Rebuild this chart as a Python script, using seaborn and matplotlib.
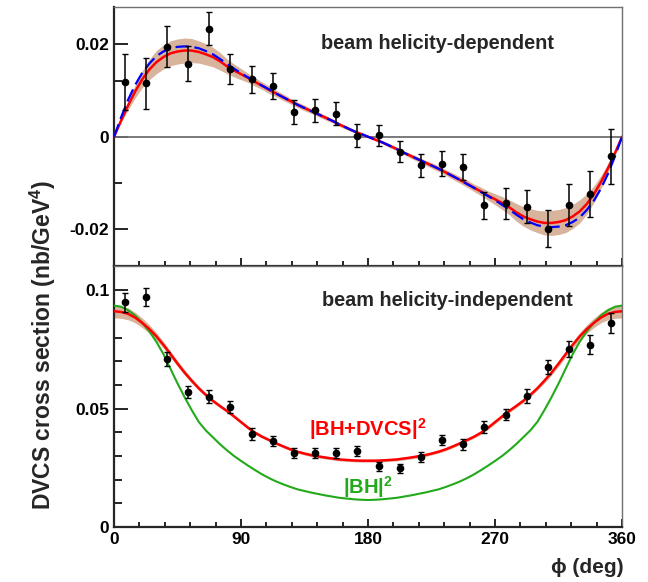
import numpy as np
import pandas as pd
import seaborn as sns
import matplotlib.pyplot as plt
from matplotlib.ticker import FixedLocator

# measured points (bin centres in phi)
phi_bins = [7.5, 22.5, 37.5, 52.5, 67.5, 82.5, 97.5, 112.5, 127.5, 142.5, 157.5, 172.5,
            187.5, 202.5, 217.5, 232.5, 247.5, 262.5, 277.5, 292.5, 307.5, 322.5, 337.5, 352.5]

dep_vals = [0.0118, 0.0115, 0.0194, 0.0158, 0.0233, 0.0146, 0.0124, 0.0109, 0.0054, 0.0057, 0.0050, 0.0002,
            0.0003, -0.0032, -0.0062, -0.0058, -0.0066, -0.0148, -0.0144, -0.0151, -0.0199, -0.0148, -0.0123, -0.0042]
dep_errs = [0.0060, 0.0055, 0.0044, 0.0037, 0.0036, 0.0033, 0.0029, 0.0028, 0.0026, 0.0025, 0.0024, 0.0025,
            0.0023, 0.0022, 0.0025, 0.0027, 0.0028, 0.0029, 0.0033, 0.0035, 0.0040, 0.0045, 0.0050, 0.0059]

ind_vals = [0.0948, 0.0972, 0.0709, 0.0570, 0.0551, 0.0508, 0.0392, 0.0363, 0.0311, 0.0311, 0.0314, 0.0321,
            0.0256, 0.0248, 0.0297, 0.0367, 0.0349, 0.0423, 0.0475, 0.0553, 0.0677, 0.0752, 0.0769, 0.0861]
ind_errs = [0.0039, 0.0037, 0.0030, 0.0026, 0.0027, 0.0025, 0.0024, 0.0022, 0.0021, 0.0021, 0.0021, 0.0022,
            0.0020, 0.0020, 0.0021, 0.0021, 0.0022, 0.0024, 0.0025, 0.0028, 0.0030, 0.0033, 0.0040, 0.0041]

# curves every 5 deg (0..360)
curve_phi = list(range(0, 365, 5))

fit_dep = [0, 0.0035, 0.0068, 0.0098, 0.0124, 0.0145, 0.0161, 0.0172, 0.0180, 0.0184, 0.0186, 0.0186,
           0.0183, 0.0178, 0.0172, 0.0163, 0.0152, 0.0143, 0.0135, 0.0127, 0.0118, 0.0110, 0.0101, 0.0093,
           0.0085, 0.0077, 0.0069, 0.0062, 0.0055, 0.0048, 0.0041, 0.0034, 0.0026, 0.0019, 0.0012, 0.0006, 0.0,
           -0.0006, -0.0012, -0.0019, -0.0026, -0.0034, -0.0041, -0.0048, -0.0055, -0.0062, -0.0069, -0.0077,
           -0.0085, -0.0093, -0.0101, -0.0110, -0.0118, -0.0127, -0.0135, -0.0143, -0.0152, -0.0163, -0.0172,
           -0.0178, -0.0183, -0.0186, -0.0186, -0.0184, -0.0180, -0.0172, -0.0161, -0.0145, -0.0124, -0.0098,
           -0.0068, -0.0035, 0]
model_dep = [0, 0.0042, 0.0080, 0.0112, 0.0138, 0.0158, 0.0174, 0.0184, 0.0191, 0.0194, 0.0195, 0.0194,
             0.0191, 0.0185, 0.0178, 0.0168, 0.0157, 0.0147, 0.0137, 0.0128, 0.0119, 0.0110, 0.0102, 0.0093,
             0.0085, 0.0077, 0.0069, 0.0062, 0.0055, 0.0048, 0.0041, 0.0034, 0.0026, 0.0019, 0.0012, 0.0006, 0.0,
             -0.0006, -0.0012, -0.0019, -0.0026, -0.0034, -0.0041, -0.0048, -0.0055, -0.0062, -0.0069, -0.0077,
             -0.0085, -0.0093, -0.0102, -0.0110, -0.0119, -0.0128, -0.0137, -0.0147, -0.0157, -0.0168, -0.0178,
             -0.0185, -0.0191, -0.0194, -0.0195, -0.0194, -0.0191, -0.0184, -0.0174, -0.0158, -0.0138, -0.0112,
             -0.0080, -0.0042, 0]
band_dep = [0, 0.0005, 0.0010, 0.0014, 0.0018, 0.0022, 0.0025, 0.0026, 0.0027, 0.0027, 0.0027, 0.0026,
            0.0024, 0.0023, 0.0021, 0.0019, 0.0016, 0.0014, 0.0012, 0.0010, 0.0009, 0.0008, 0.0008, 0.0007,
            0.0007, 0.0006, 0.0006, 0.0006, 0.0005, 0.0005, 0.0005, 0.0004, 0.0004, 0.0004, 0.0003, 0.0003, 0.0002,
            0.0003, 0.0003, 0.0004, 0.0004, 0.0004, 0.0005, 0.0005, 0.0005, 0.0006, 0.0006, 0.0006,
            0.0007, 0.0007, 0.0008, 0.0008, 0.0009, 0.0010, 0.0012, 0.0014, 0.0016, 0.0019, 0.0021,
            0.0023, 0.0024, 0.0026, 0.0027, 0.0027, 0.0027, 0.0026, 0.0025, 0.0022, 0.0018, 0.0014,
            0.0010, 0.0005, 0]

fit_ind = [0.0911, 0.0908, 0.0900, 0.0884, 0.0862, 0.0836, 0.0805, 0.0769, 0.0730, 0.0690, 0.0652, 0.0618,
           0.0586, 0.0558, 0.0533, 0.0511, 0.0490, 0.0467, 0.0443, 0.0419, 0.0398, 0.0381, 0.0367, 0.0353,
           0.0340, 0.0328, 0.0318, 0.0310, 0.0303, 0.0298, 0.0293, 0.0289, 0.0285, 0.0283, 0.0281, 0.0280, 0.0280,
           0.0280, 0.0281, 0.0283, 0.0285, 0.0289, 0.0293, 0.0298, 0.0303, 0.0310, 0.0318, 0.0328,
           0.0340, 0.0353, 0.0367, 0.0381, 0.0398, 0.0419, 0.0443, 0.0467, 0.0490, 0.0511, 0.0533,
           0.0558, 0.0586, 0.0618, 0.0652, 0.0690, 0.0730, 0.0769, 0.0805, 0.0836, 0.0862, 0.0884,
           0.0900, 0.0908, 0.0911]
bh_ind = [0.0935, 0.0930, 0.0915, 0.0893, 0.0862, 0.0826, 0.0782, 0.0730, 0.0668, 0.0606, 0.0548, 0.0494,
          0.0444, 0.0408, 0.0379, 0.0350, 0.0324, 0.0300, 0.0279, 0.0259, 0.0240, 0.0222, 0.0206, 0.0192,
          0.0180, 0.0169, 0.0159, 0.0152, 0.0145, 0.0139, 0.0133, 0.0128, 0.0123, 0.0120, 0.0117, 0.0115, 0.0114,
          0.0115, 0.0117, 0.0120, 0.0123, 0.0128, 0.0133, 0.0139, 0.0145, 0.0152, 0.0159, 0.0169,
          0.0180, 0.0192, 0.0206, 0.0222, 0.0240, 0.0259, 0.0279, 0.0300, 0.0324, 0.0350, 0.0379,
          0.0408, 0.0444, 0.0494, 0.0548, 0.0606, 0.0668, 0.0730, 0.0782, 0.0826, 0.0862, 0.0893,
          0.0915, 0.0930, 0.0935]
band_ind = [0.0028, 0.0027, 0.0025, 0.0022, 0.0020, 0.0018, 0.0016, 0.0014, 0.0013, 0.0012, 0.0011, 0.0010,
            0.0009, 0.0008, 0.0008, 0.0007, 0.0007, 0.0007, 0.0007, 0.0007, 0.0007, 0.0006, 0.0006, 0.0006,
            0.0006, 0.0006, 0.0006, 0.0006, 0.0006, 0.0006, 0.0006, 0.0006, 0.0006, 0.0006, 0.0006, 0.0006, 0.0006,
            0.0006, 0.0006, 0.0006, 0.0006, 0.0006, 0.0006, 0.0006, 0.0006, 0.0006, 0.0006, 0.0006,
            0.0006, 0.0006, 0.0006, 0.0006, 0.0007, 0.0007, 0.0007, 0.0007, 0.0007, 0.0007, 0.0008,
            0.0008, 0.0009, 0.0010, 0.0011, 0.0012, 0.0013, 0.0014, 0.0016, 0.0018, 0.0020, 0.0022,
            0.0025, 0.0027, 0.0028]

sns.set_style("ticks")
plt.rcParams['font.family'] = ['Liberation Sans', 'DejaVu Sans']
plt.rcParams['font.weight'] = 'bold'
plt.rcParams['mathtext.fontset'] = 'custom'
plt.rcParams['mathtext.rm'] = 'Liberation Sans:bold'
plt.rcParams['mathtext.bf'] = 'Liberation Sans:bold'

BAND = "#d9b49c"
GREEN = "#22aa1a"
curves = pd.DataFrame({"phi": curve_phi, "fit_dep": fit_dep, "model_dep": model_dep,
                       "fit_ind": fit_ind, "bh_ind": bh_ind})

fig = plt.figure(figsize=(6.48, 5.82), dpi=100)
ax1 = fig.add_axes([0.176, 0.5421, 0.784, 0.4459])
ax2 = fig.add_axes([0.176, 0.0945, 0.784, 0.4476])

# top: helicity dependent
ax1.axhline(0, color="#707070", lw=1.3, zorder=1)
ax1.fill_between(curve_phi, np.array(fit_dep) - np.array(band_dep), np.array(fit_dep) + np.array(band_dep),
                 color=BAND, lw=0, zorder=2)
sns.lineplot(data=curves, x="phi", y="fit_dep", ax=ax1, color="red", lw=1.8, zorder=3)
sns.lineplot(data=curves, x="phi", y="model_dep", ax=ax1, color="blue", lw=1.6, zorder=4,
             dashes=False, linestyle=(0, (6, 2.5)))
ax1.errorbar(phi_bins, dep_vals, yerr=dep_errs, fmt="o", color="black", ms=4.5, elinewidth=1.1,
             capsize=2, capthick=1.0, zorder=5)
ax1.set_xlim(0, 360)
ax1.set_ylim(-0.028, 0.028)
ax1.set_yticks([-0.02, 0, 0.02])
ax1.set_yticklabels(["-0.02", "0", "0.02"])
ax1.yaxis.set_minor_locator(FixedLocator([-0.01, 0.0121]))
ax1.text(229, 0.0202, "beam helicity-dependent", ha="center", va="center", fontsize=14.3, fontweight="bold")
ax1.tick_params(labelbottom=False)

# bottom: helicity independent
ax2.fill_between(curve_phi, np.array(fit_ind) - np.array(band_ind), np.array(fit_ind) + np.array(band_ind),
                 color=BAND, lw=0, zorder=2)
sns.lineplot(data=curves, x="phi", y="bh_ind", ax=ax2, color=GREEN, lw=1.5, zorder=3)
sns.lineplot(data=curves, x="phi", y="fit_ind", ax=ax2, color="red", lw=1.8, zorder=4)
ax2.errorbar(phi_bins, ind_vals, yerr=ind_errs, fmt="o", color="black", ms=4.5, elinewidth=1.1,
             capsize=2, capthick=1.0, zorder=5)
ax2.set_xlim(0, 360)
ax2.set_ylim(0, 0.11)
ax2.set_yticks([0, 0.05, 0.1])
ax2.set_yticklabels(["0", "0.05", "0.1"])
ax2.yaxis.set_minor_locator(FixedLocator([0.01, 0.02, 0.03, 0.04, 0.06, 0.07, 0.08]))
ax2.text(236, 0.0958, "beam helicity-independent", ha="center", va="center", fontsize=14.3, fontweight="bold")
ax2.text(180, 0.0413, r"|BH+DVCS|$^{2}$", ha="center", va="center", fontsize=14.5, color="red", fontweight="bold")
ax2.text(180, 0.0169, r"|BH|$^{2}$", ha="center", va="center", fontsize=14.5, color=GREEN, fontweight="bold")

for ax in (ax1, ax2):
    ax.set_xlabel("")
    ax.set_ylabel("")
    ax.set_xticks([0, 90, 180, 270, 360])
    ax.xaxis.set_minor_locator(FixedLocator([v for v in range(18, 360, 18) if v % 90 != 0]))
    ax.tick_params(which="both", direction="in", top=False, right=False, width=1.2,
                   labelsize=12.5, colors="black")
    ax.tick_params(which="major", axis="y", length=10)
    ax.tick_params(which="minor", axis="y", length=5.5)
    ax.tick_params(which="major", axis="x", length=6)
    ax.tick_params(which="minor", axis="x", length=3.5)
    for lab in ax.get_xticklabels() + ax.get_yticklabels():
        lab.set_fontweight("bold")
    ax.spines["left"].set_linewidth(1.6)
    ax.spines["bottom"].set_linewidth(1.6)
    ax.spines["top"].set_color("#707070")
    ax.spines["right"].set_color("#707070")
    ax.spines["top"].set_linewidth(1.0)
    ax.spines["right"].set_linewidth(1.0)
    ax.set_facecolor("white")

ax2.set_xticklabels(["0", "90", "180", "270", "360"])

fig.text(0.066, 0.407, r"DVCS cross section (nb/GeV$^{4}$)", rotation=90, ha="center", va="center",
         fontsize=16.5, fontweight="bold")
fig.text(0.962, 0.025, "\u03d5 (deg)", ha="right", va="center", fontsize=15, fontweight="bold")

fig.savefig("out.png", dpi=100)
